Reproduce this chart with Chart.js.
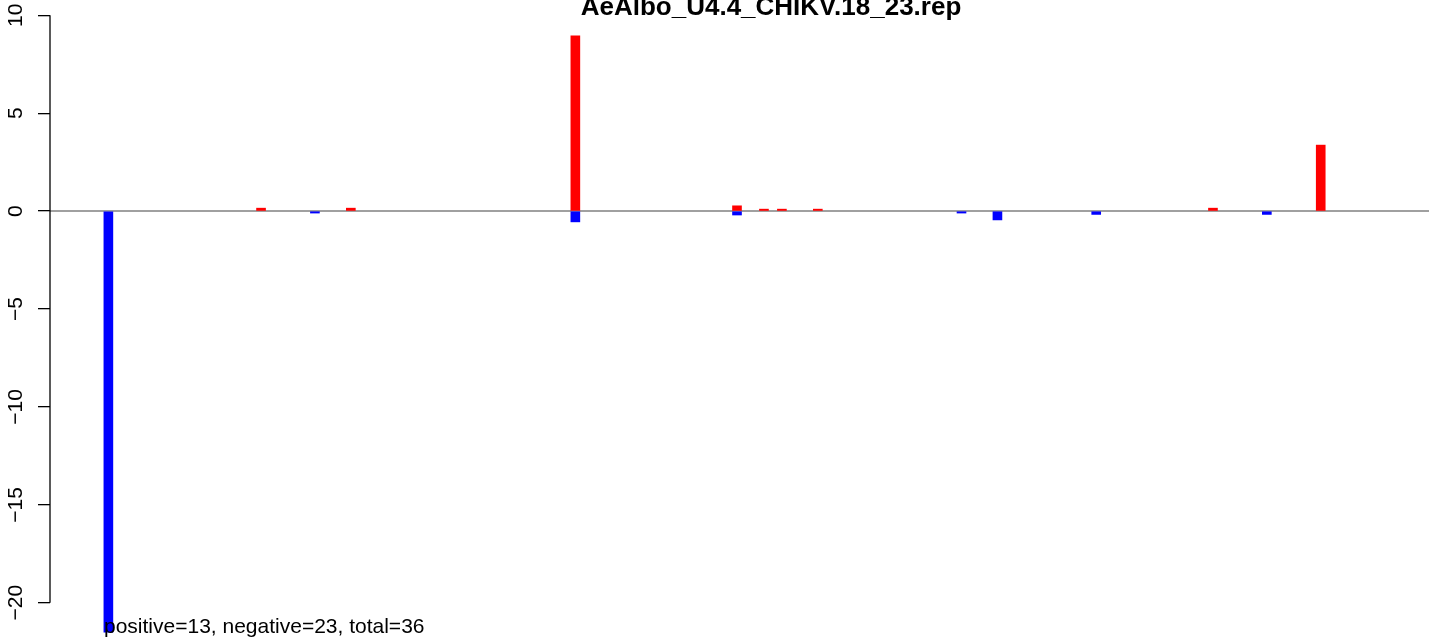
<!DOCTYPE html>
<html lang="en">
<head>
  <meta charset="UTF-8">
  <title>AeAlbo_U4.4_CHIKV.18_23.rep</title>
  <script src="https://cdn.jsdelivr.net/npm/chart.js"></script>
  <style>
    body {
      margin: 0;
      background: #fff;
    }
    .chart-box {
      width: 1429px;
      height: 638px;
      position: relative;
    }
  </style>
</head>
<body>

  <div class="chart-box">
    <canvas id="repChart"></canvas>
  </div>

  <script>
    const chartTitle = 'AeAlbo_U4.4_CHIKV.18_23.rep';
    const summaryText = 'positive=13, negative=23, total=36';

    // slot range of the bar plot (slots -6..-1 are the empty margin left of the first bar)
    const firstSlot = -6;
    const lastSlot = 146;

    const posSlots  = [17, 27, 52, 70, 73, 75, 79, 123, 135];
    const posValues = [0.15, 0.15, 8.95, 0.27, 0.1, 0.1, 0.1, 0.15, 3.37];

    const negSlots  = [0, 23, 52, 70, 95, 99, 110, 129];
    const negValues = [-21.5, -0.1, -0.55, -0.2, -0.1, -0.45, -0.17, -0.17];

    const yTicks = [-20, -15, -10, -5, 0, 5, 10];

    const labels = [];
    for (let s = firstSlot; s <= lastSlot; s++) labels.push(s);

    function fillSlots(slots, values) {
      const out = labels.map(() => null);
      slots.forEach((s, i) => { out[s - firstSlot] = values[i]; });
      return out;
    }

    const font = 'Liberation Sans, Arial, sans-serif';

    // grey zero line, axis line between first and last tick, title and summary text
    const extras = {
      id: 'extras',
      beforeDatasetsDraw(chart) {
        const { ctx, scales: { x, y } } = chart;
        const y0 = y.getPixelForValue(0);
        const xStart = x.getPixelForValue(0) - x.width / labels.length / 2;
        ctx.save();
        ctx.strokeStyle = '#a0a0a0';
        ctx.lineWidth = 2;
        ctx.beginPath();
        ctx.moveTo(xStart, y0);
        ctx.lineTo(chart.width, y0);
        ctx.stroke();
        ctx.restore();
      },
      afterDraw(chart) {
        const { ctx, scales: { y } } = chart;
        ctx.save();
        ctx.strokeStyle = '#000';
        ctx.lineWidth = 1.3;
        ctx.beginPath();
        ctx.moveTo(y.right, y.getPixelForValue(yTicks[yTicks.length - 1]));
        ctx.lineTo(y.right, y.getPixelForValue(yTicks[0]));
        ctx.stroke();

        ctx.fillStyle = '#000';
        ctx.font = 'bold 26px ' + font;
        ctx.textAlign = 'center';
        ctx.textBaseline = 'alphabetic';
        ctx.fillText(chartTitle, 771, 15);

        ctx.font = '21px ' + font;
        ctx.textAlign = 'left';
        ctx.fillText(summaryText, 104, 633);
        ctx.restore();
      }
    };

    new Chart(document.getElementById('repChart'), {
      type: 'bar',
      data: {
        labels,
        datasets: [
          {
            label: 'positive',
            data: fillSlots(posSlots, posValues),
            backgroundColor: '#ff0000',
            borderWidth: 0,
            barPercentage: 1,
            categoryPercentage: 1
          },
          {
            label: 'negative',
            data: fillSlots(negSlots, negValues),
            backgroundColor: '#0000ff',
            borderWidth: 0,
            barPercentage: 1,
            categoryPercentage: 1
          }
        ]
      },
      options: {
        responsive: true,
        maintainAspectRatio: false,
        animation: false,
        layout: { padding: { left: 0, right: 5, top: 0, bottom: 0 } },
        plugins: {
          legend: { display: false },
          tooltip: { enabled: false }
        },
        scales: {
          x: {
            display: false,
            stacked: true
          },
          y: {
            stacked: true,
            min: -21.8,
            max: 10.78,
            afterBuildTicks: s => { s.ticks = yTicks.map(v => ({ value: v })); },
            afterFit: s => {
              s.width = 50;
              s.paddingTop = 0;
              s.paddingBottom = 0;
            },
            border: { display: false },
            grid: {
              drawOnChartArea: false,
              drawTicks: true,
              tickLength: 12,
              color: '#000',
              lineWidth: 1.3
            },
            ticks: {
              minRotation: 90,
              maxRotation: 90,
              crossAlign: 'center',
              padding: 4,
              color: '#000',
              font: { family: font, size: 21 },
              callback: v => String(v).replace('-', '\u2212')
            }
          }
        }
      },
      plugins: [extras]
    });
  </script>
</body>
</html>
